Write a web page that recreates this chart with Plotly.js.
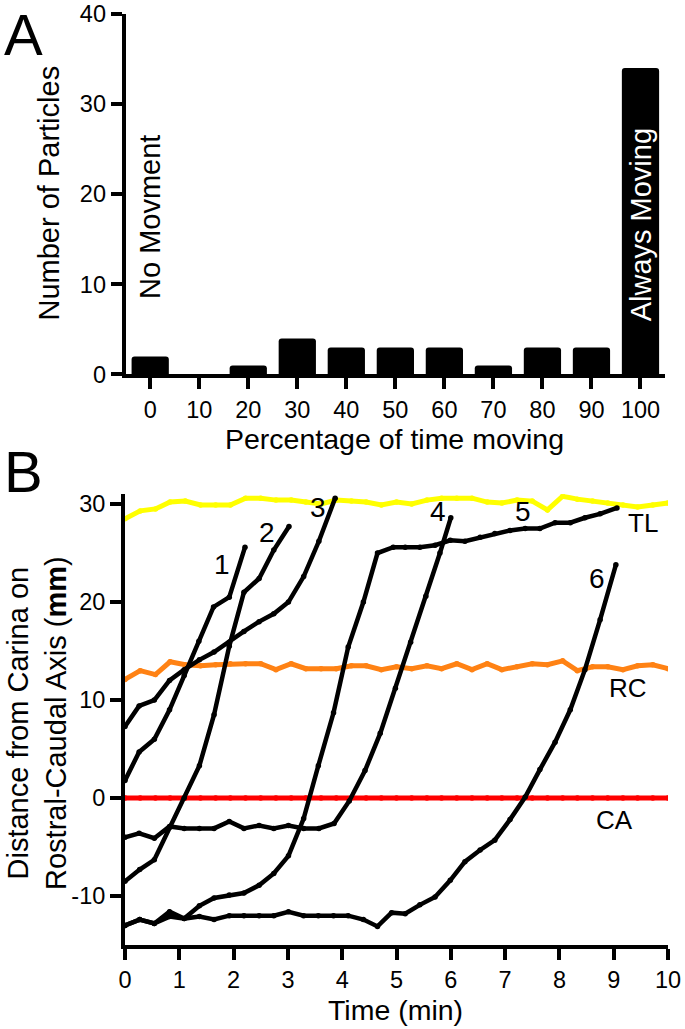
<!DOCTYPE html>
<html>
<head>
<meta charset="utf-8">
<script src="https://cdn.plot.ly/plotly-3.0.1.min.js"></script>
<style>html,body{margin:0;padding:0;background:#fff;}#chart{width:685px;height:1029px;}</style>
</head>
<body>
<div id="chart"></div>
<script>
// ---------- Panel A data ----------
const pctCategories = [0, 10, 20, 30, 40, 50, 60, 70, 80, 90, 100];
const pctTickLabels = ["0", "10", "20", "30", "40", "50", "60", "70", "80", "90", "100"];
const particleCounts = [2, 0, 1, 4, 3, 3, 3, 1, 3, 3, 34];

// ---------- Panel B data ----------
const refTimes = [0, 0.28, 0.56, 0.83, 1.11, 1.39, 1.67, 1.94, 2.22, 2.5, 2.78, 3.06, 3.33, 3.61, 3.89, 4.17, 4.44, 4.72, 5, 5.28, 5.56, 5.83, 6.11, 6.39, 6.67, 6.94, 7.22, 7.5, 7.78, 8.06, 8.33, 8.61, 8.89, 9.17, 9.44, 9.72, 10];
const tlValues = [28.5, 29.3, 29.5, 30.2, 30.3, 29.9, 29.9, 29.9, 30.6, 30.6, 30.4, 30.4, 30.2, 30.0, 30.4, 30.3, 30.2, 29.9, 30.2, 30.0, 30.4, 30.6, 30.6, 30.6, 30.2, 30.1, 30.4, 30.3, 29.4, 30.8, 30.5, 30.3, 30.1, 29.9, 29.7, 29.9, 30.1];
const rcValues = [12.1, 13.0, 12.6, 13.9, 13.6, 13.5, 13.6, 13.7, 13.7, 13.7, 13.1, 13.7, 13.2, 13.2, 13.2, 13.5, 13.5, 13.1, 13.4, 13.2, 13.5, 13.2, 13.7, 13.1, 13.7, 13.1, 13.4, 13.7, 13.6, 14.0, 13.0, 13.4, 13.4, 13.1, 13.5, 13.6, 13.2];
const caValues = [0, 0, 0, 0, 0, 0, 0, 0, 0, 0, 0, 0, 0, 0, 0, 0, 0, 0, 0, 0, 0, 0, 0, 0, 0, 0, 0, 0, 0, 0, 0, 0, 0, 0, 0, 0, 0];

const p1Times = [0, 0.26, 0.54, 0.82, 1.09, 1.36, 1.63, 1.92, 2.21];
const p1Values = [1.8, 4.7, 6.0, 9.0, 12.5, 16.0, 19.5, 20.5, 25.6];
const p2Times = [0, 0.27, 0.54, 0.82, 1.09, 1.37, 1.64, 1.92, 2.19, 2.47, 2.74, 3.02];
const p2Values = [-8.5, -7.3, -6.3, -3.0, 0.0, 3.3, 8.5, 15.5, 21.0, 22.4, 25.3, 27.7];
const p3Times = [0, 0.26, 0.54, 0.82, 1.09, 1.37, 1.64, 1.92, 2.19, 2.47, 2.74, 3.01, 3.29, 3.57, 3.87];
const p3Values = [7.3, 9.4, 10.0, 12.0, 13.1, 14.1, 14.9, 15.9, 17.0, 18.0, 18.8, 20.0, 22.6, 26.2, 30.6];
const p4Times = [0, 0.26, 0.54, 0.82, 1.09, 1.37, 1.64, 1.92, 2.19, 2.47, 2.74, 3.01, 3.29, 3.57, 3.85, 4.13, 4.42, 4.7, 4.98, 5.26, 5.54, 5.8, 6.0];
const p4Values = [-4.0, -3.6, -4.1, -2.9, -3.1, -3.1, -3.1, -2.4, -3.1, -2.8, -3.1, -2.8, -3.1, -3.1, -2.6, -0.3, 2.8, 6.6, 11.2, 15.9, 20.6, 25.0, 28.6];
const p5Times = [0, 0.27, 0.54, 0.82, 1.09, 1.37, 1.64, 1.92, 2.19, 2.47, 2.74, 3.01, 3.29, 3.56, 3.84, 4.11, 4.39, 4.65, 4.94, 5.16, 5.43, 5.71, 5.99, 6.26, 6.54, 6.81, 7.09, 7.37, 7.64, 7.92, 8.2, 8.47, 8.75, 9.06];
const p5Values = [-13.0, -12.4, -12.8, -12.1, -12.3, -11.0, -10.2, -9.9, -9.7, -8.9, -7.7, -5.9, -2.1, 3.3, 8.7, 15.4, 20.0, 25.0, 25.6, 25.6, 25.6, 25.8, 26.3, 26.2, 26.6, 27.0, 27.3, 27.5, 27.5, 28.1, 28.1, 28.6, 29.0, 29.6];
const p6Times = [0, 0.27, 0.54, 0.82, 1.09, 1.37, 1.64, 1.92, 2.19, 2.47, 2.74, 3.01, 3.29, 3.56, 3.84, 4.11, 4.39, 4.65, 4.91, 5.16, 5.43, 5.71, 5.99, 6.26, 6.54, 6.81, 7.09, 7.37, 7.64, 7.92, 8.2, 8.47, 8.75, 9.04];
const p6Values = [-13.0, -12.4, -12.8, -11.6, -12.3, -12.1, -12.4, -12.0, -12.0, -12.0, -12.0, -11.6, -12.0, -12.0, -12.0, -12.0, -12.4, -13.1, -11.7, -11.8, -10.9, -10.1, -8.4, -6.5, -5.3, -4.3, -2.2, 0.1, 2.9, 5.7, 9.0, 13.1, 18.2, 23.8];

const bTickVals = [-10, 0, 10, 20, 30];
const bTickText = ["-10", "0", "10", "20", "30"];

// ---------- Build ----------
const FONT = "Liberation Sans, Arial, Helvetica, sans-serif";

function refLine(y, color) {
  return { x: refTimes, y: y, xaxis: "x2", yaxis: "y2", type: "scatter", mode: "lines+markers",
           line: { color: color, width: 5 }, marker: { color: color, size: 5.5 }, hoverinfo: "skip" };
}
function particle(x, y) {
  return { x: x, y: y, xaxis: "x2", yaxis: "y2", type: "scatter", mode: "lines+markers",
           line: { color: "#000", width: 4.5 }, marker: { color: "#000", size: 5.5 }, hoverinfo: "skip" };
}

const traces = [
  { x: pctCategories, y: particleCounts, type: "bar", xaxis: "x", yaxis: "y", width: 7.6,
    marker: { color: "#000", cornerradius: 3, line: { width: 0 } }, hoverinfo: "skip" },
  refLine(tlValues, "#ffff00"),
  refLine(rcValues, "#ff8214"),
  refLine(caValues, "#ff0000"),
  particle(p1Times, p1Values),
  particle(p2Times, p2Values),
  particle(p3Times, p3Values),
  particle(p4Times, p4Values),
  particle(p5Times, p5Values),
  particle(p6Times, p6Values)
];

const axisCommon = {
  showline: true, linewidth: 4, linecolor: "#000", ticks: "outside", ticklen: 11, tickwidth: 4,
  tickcolor: "#000", showgrid: false, zeroline: false, fixedrange: true,
  tickfont: { family: FONT, size: 23.5, color: "#000" }
};

function ann(text, x, y, size, extra) {
  return Object.assign({ text: text, x: x, y: y, showarrow: false, xanchor: "center", yanchor: "middle",
                         font: { family: FONT, size: size, color: "#000" } }, extra || {});
}

const annotations = [
  ann("A", 0.035, 0.9660, 58, { xref: "paper", yref: "paper" }),
  ann("B", 0.035, 0.5422, 58, { xref: "paper", yref: "paper" }),
  ann("Number of Particles", 0.0715, 0.8129, 29, { xref: "paper", yref: "paper", textangle: -90 }),
  ann("Percentage of time moving", 0.5766, 0.5734, 28.5, { xref: "paper", yref: "paper" }),
  ann("Distance from Carina on<br>Rostral-Caudal Axis (<b>mm</b>)", 0.054, 0.2974, 29, { xref: "paper", yref: "paper", textangle: -90 }),
  ann("Time (min)", 0.578, 0.0180, 28.5, { xref: "paper", yref: "paper" }),
  ann("No Movment", 0, 17.5, 29, { xref: "x", yref: "y", textangle: -90 }),
  ann("Always Moving", 100, 16.6, 29, { xref: "x", yref: "y", textangle: -90, font: { family: FONT, size: 29, color: "#fff" } }),
  ann("1", 1.78, 23.8, 28, { xref: "x2", yref: "y2" }),
  ann("2", 2.61, 27.1, 28, { xref: "x2", yref: "y2" }),
  ann("3", 3.55, 29.6, 28, { xref: "x2", yref: "y2" }),
  ann("4", 5.76, 29.2, 28, { xref: "x2", yref: "y2" }),
  ann("5", 7.33, 29.2, 28, { xref: "x2", yref: "y2" }),
  ann("6", 8.69, 22.4, 28, { xref: "x2", yref: "y2" }),
  ann("TL", 9.54, 28.06, 26, { xref: "x2", yref: "y2" }),
  ann("RC", 9.26, 11.2, 26, { xref: "x2", yref: "y2" }),
  ann("CA", 9.02, -2.2, 26, { xref: "x2", yref: "y2" })
];

const layout = {
  width: 685, height: 1029,
  margin: { l: 0, r: 0, t: 0, b: 0 },
  paper_bgcolor: "#fff", plot_bgcolor: "rgba(0,0,0,0)",
  showlegend: false,
  font: { family: FONT, color: "#000" },
  xaxis: Object.assign({}, axisCommon, { domain: [0.1835, 0.9708], anchor: "y", range: [-5, 105],
                                         tickmode: "array", tickvals: pctCategories, ticktext: pctTickLabels }),
  yaxis: Object.assign({}, axisCommon, { domain: [0.6361, 0.9864], anchor: "x", range: [0, 40], tickmode: "linear", tick0: 0, dtick: 10 }),
  xaxis2: Object.assign({}, axisCommon, { domain: [0.1825, 0.9752], anchor: "y2", range: [0, 10], tickmode: "linear", tick0: 0, dtick: 1 }),
  yaxis2: Object.assign({}, axisCommon, { domain: [0.0816, 0.5197], anchor: "x2", range: [-15, 31],
                                          tickmode: "array", tickvals: bTickVals, ticktext: bTickText }),
  annotations: annotations
};

Plotly.newPlot("chart", traces, layout, { staticPlot: true, displayModeBar: false });
</script>
</body>
</html>
